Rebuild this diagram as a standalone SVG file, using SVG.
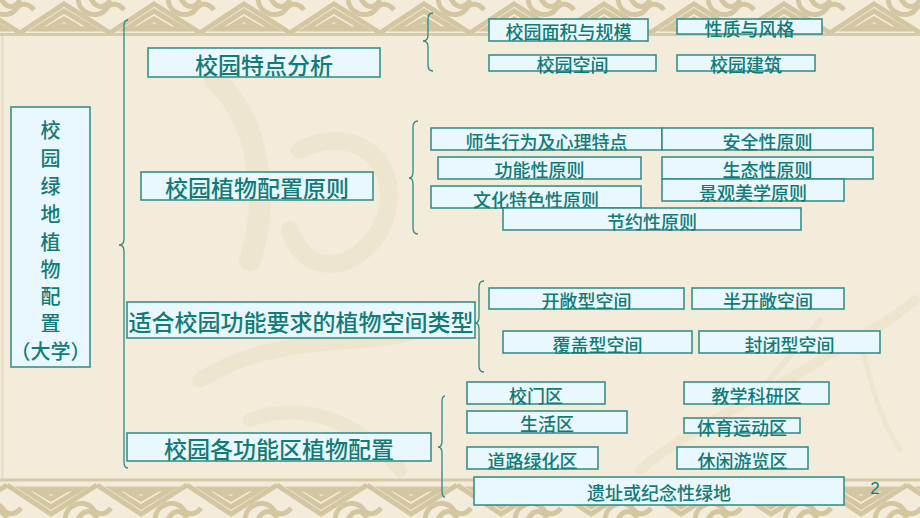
<svg xmlns="http://www.w3.org/2000/svg" width="920" height="518" viewBox="0 0 920 518">
<style>
.box{fill:#E9F7FE;stroke:#2B8A86;stroke-width:1.5}
.t{font-family:"Noto Sans CJK SC","Noto Sans CJK JP",sans-serif;font-weight:500;fill:#127B77;text-anchor:middle;dominant-baseline:central}
.big{font-size:23px}
.sm{font-size:18px}
.vt{font-size:20px}
.brace{fill:none;stroke:#2A8A86;stroke-width:1.3}
.knot{fill:none;stroke:#D3C6A1;stroke-width:5}
.wm{fill:none;stroke:#EEE5CE;stroke-linecap:round}
</style>
<defs>
<pattern id="bt" width="90" height="36" patternUnits="userSpaceOnUse" x="20" y="0">
<path class="knot" d="M0,33 L44,4 L90,33"/>
<path class="knot" d="M16,29 L44,11 L74,29 Z"/>
<path class="knot" stroke-width="4" d="M32,26 L44,19 L56,26 Z"/>
<path class="knot" d="M58,-2 C58,14 78,20 86,9 C90,3 98,2 104,10"/>
<path class="knot" d="M-32,-2 C-32,14 -12,20 -4,9 C0,3 8,2 14,10"/>
<path class="knot" d="M70,-4 C74,8 84,10 90,0"/>
<path class="knot" d="M-20,-4 C-16,8 -6,10 0,0"/>
</pattern>
<pattern id="bb" width="90" height="36" patternUnits="userSpaceOnUse" x="7" y="0">
<path class="knot" d="M0,33 L44,4 L90,33"/>
<path class="knot" d="M16,29 L44,11 L74,29 Z"/>
<path class="knot" stroke-width="4" d="M32,26 L44,19 L56,26 Z"/>
<path class="knot" d="M58,-2 C58,14 78,20 86,9 C90,3 98,2 104,10"/>
<path class="knot" d="M-32,-2 C-32,14 -12,20 -4,9 C0,3 8,2 14,10"/>
<path class="knot" d="M70,-4 C74,8 84,10 90,0"/>
<path class="knot" d="M-20,-4 C-16,8 -6,10 0,0"/>
</pattern>
</defs>

<g id="background">
<rect x="0" y="0" width="920" height="518" fill="#F4ECDA"/>
<path class="wm" stroke-width="22" d="M215,80 C260,120 270,200 250,260"/>
<path class="wm" stroke-width="18" d="M300,150 C360,120 410,170 380,230 C350,280 300,270 290,230"/>
<path class="wm" stroke-width="16" d="M200,380 C280,330 360,350 420,330"/>
<path class="wm" stroke-width="14" d="M250,420 C300,400 360,420 400,470"/>
<path class="wm" stroke-width="10" d="M640,470 C700,420 760,400 820,360 C850,340 880,330 915,300"/>
<path class="wm" stroke-width="6" d="M760,400 C770,370 800,350 820,320"/>
<path class="wm" stroke-width="5" d="M860,340 C870,380 880,420 900,450"/>
<line x1="2.5" y1="36" x2="2.5" y2="480" stroke="#E6DBC2" stroke-width="2"/>
<rect x="0" y="0" width="920" height="33" fill="url(#bt)"/>
<line x1="0" y1="34.5" x2="920" y2="34.5" stroke="#D6CAA7" stroke-width="3"/>
<g transform="translate(0,518) scale(1,-1)">
<rect x="0" y="0" width="920" height="36" fill="url(#bb)"/>
<line x1="0" y1="38" x2="920" y2="38" stroke="#D6CAA7" stroke-width="3"/>
</g>
</g>

<g id="connectors">
<path class="brace" d="M128,20 Q124,20 124,26 L124,239 Q124,245 119,245 Q124,245 124,251 L124,462 Q124,468 128,468"/>
<path class="brace" d="M433,13 Q428,13 428,19 L428,35 Q428,41 423,41 Q428,41 428,47 L428,65 Q428,71 433,71"/>
<path class="brace" d="M418,121 Q413,121 413,127 L413,172 Q413,178 409,178 Q413,178 413,184 L413,228 Q413,234 418,234"/>
<path class="brace" d="M484,281 Q479,281 479,287 L479,317 Q479,323 475,323 Q479,323 479,329 L479,366 Q479,372 484,372"/>
<path class="brace" d="M445,396 Q442,396 442,402 L442,441 Q442,447 438,447 Q442,447 442,453 L442,491 Q442,497 445,497"/>
</g>

<g id="root">
<rect class="box" x="11" y="107" width="79" height="260"/>
<text class="t vt" x="50.5" y="129">校</text>
<text class="t vt" x="50.5" y="157">园</text>
<text class="t vt" x="50.5" y="185">绿</text>
<text class="t vt" x="50.5" y="213">地</text>
<text class="t vt" x="50.5" y="241">植</text>
<text class="t vt" x="50.5" y="268">物</text>
<text class="t vt" x="50.5" y="295">配</text>
<text class="t vt" x="50.5" y="322">置</text>
<text class="t vt" x="50.5" y="350">（大学）</text>
</g>

<g id="n-features">
<rect class="box" x="148" y="48" width="232" height="29"/>
<text class="t big" x="264" y="64">校园特点分析</text>
</g>
<g id="n-principles">
<rect class="box" x="141" y="172" width="232" height="28"/>
<text class="t big" x="257" y="187">校园植物配置原则</text>
</g>
<g id="n-spaces">
<rect class="box" x="127" y="302" width="348" height="36"/>
<text class="t big" x="301" y="321">适合校园功能要求的植物空间类型</text>
</g>
<g id="n-zones">
<rect class="box" x="127" y="433" width="304" height="28"/>
<text class="t big" x="279" y="448">校园各功能区植物配置</text>
</g>

<g id="f1"><rect class="box" x="489" y="19" width="159" height="22"/><text class="t sm" x="568.5" y="31">校园面积与规模</text></g>
<g id="f2"><rect class="box" x="677" y="19" width="145" height="15"/><text class="t sm" x="749.5" y="28">性质与风格</text></g>
<g id="f3"><rect class="box" x="489" y="55" width="167" height="16"/><text class="t sm" x="572.5" y="64">校园空间</text></g>
<g id="f4"><rect class="box" x="677" y="55" width="138" height="16"/><text class="t sm" x="746" y="64">校园建筑</text></g>

<g id="p1"><rect class="box" x="431" y="128" width="231" height="22"/><text class="t sm" x="546.5" y="140.5">师生行为及心理特点</text></g>
<g id="p2"><rect class="box" x="662" y="128" width="211" height="22"/><text class="t sm" x="767.5" y="140.5">安全性原则</text></g>
<g id="p3"><rect class="box" x="438" y="157" width="203" height="22"/><text class="t sm" x="539.5" y="169">功能性原则</text></g>
<g id="p4"><rect class="box" x="662" y="157" width="211" height="22"/><text class="t sm" x="767.5" y="168.5">生态性原则</text></g>
<g id="p5"><rect class="box" x="662" y="179" width="182" height="22"/><text class="t sm" x="753" y="191.5">景观美学原则</text></g>
<g id="p6"><rect class="box" x="431" y="186" width="210" height="22"/><text class="t sm" x="536" y="198.5">文化特色性原则</text></g>
<g id="p7"><rect class="box" x="503" y="208" width="298" height="22"/><text class="t sm" x="652" y="220.5">节约性原则</text></g>

<g id="s1"><rect class="box" x="489" y="288" width="195" height="21"/><text class="t sm" x="586.5" y="300">开敞型空间</text></g>
<g id="s2"><rect class="box" x="692" y="288" width="152" height="21"/><text class="t sm" x="768" y="300">半开敞空间</text></g>
<g id="s3"><rect class="box" x="503" y="331" width="189" height="22"/><text class="t sm" x="597.5" y="343.5">覆盖型空间</text></g>
<g id="s4"><rect class="box" x="699" y="331" width="181" height="22"/><text class="t sm" x="789.5" y="343.5">封闭型空间</text></g>

<g id="z1"><rect class="box" x="467" y="382" width="138" height="22"/><text class="t sm" x="536" y="394.5">校门区</text></g>
<g id="z2"><rect class="box" x="684" y="382" width="145" height="22"/><text class="t sm" x="756.5" y="394.5">教学科研区</text></g>
<g id="z3"><rect class="box" x="467" y="411" width="160" height="22"/><text class="t sm" x="547" y="422.5">生活区</text></g>
<g id="z4"><rect class="box" x="684" y="418" width="116" height="15"/><text class="t sm" x="742" y="427">体育运动区</text></g>
<g id="z5"><rect class="box" x="467" y="447" width="131" height="22"/><text class="t sm" x="532.5" y="459.5">道路绿化区</text></g>
<g id="z6"><rect class="box" x="677" y="447" width="131" height="22"/><text class="t sm" x="742.5" y="459.5">休闲游览区</text></g>
<g id="z7"><rect class="box" x="474" y="477" width="370" height="28"/><text class="t sm" x="659" y="492">遗址或纪念性绿地</text></g>

<text x="875" y="494" font-family="Liberation Sans, sans-serif" font-size="17" fill="#127B77" text-anchor="middle">2</text>
</svg>
